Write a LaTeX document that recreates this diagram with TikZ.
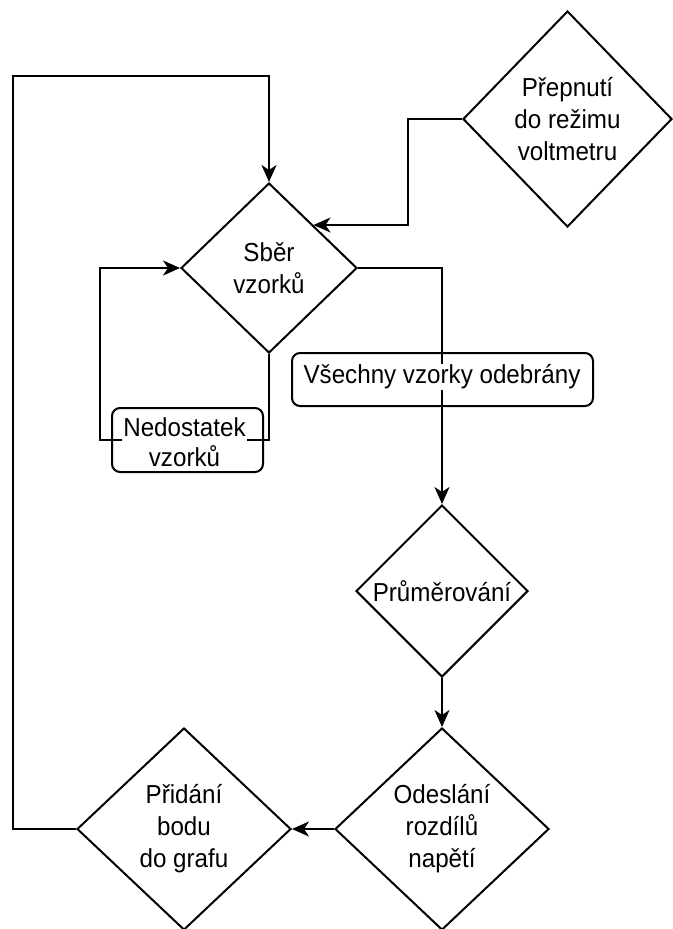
\documentclass[tikz,border=0pt]{standalone}
\usepackage{fontspec}
\setmainfont{Liberation Sans}[FakeStretch=0.93]
\usetikzlibrary{shapes.geometric,arrows.meta}

\begin{document}
\begin{tikzpicture}[x=1pt,y=-1pt,
  flow/.style={line width=2pt, draw=black},
  arr/.style={flow, -{Stealth[length=17pt,width=15pt,inset=5pt]}},
  decision/.style={diamond, draw=black, line width=2pt, fill=white,
    inner sep=0pt, align=center, font=\fontsize{26}{32}\selectfont},
  edgelbl/.style={fill=white, inner xsep=1pt, inner ysep=1pt,
    align=center, font=\fontsize{26}{30}\selectfont},
  lblbox/.style={draw=black, line width=2pt, rounded corners=8pt, inner sep=0pt}
]
\useasboundingbox (0,0) rectangle (672,929);

% decision diamonds
\node[decision, minimum width=209pt, minimum height=216pt] (prep) at (567.5,119)
  {Přepnutí\\do režimu\\voltmetru};
\node[decision, minimum width=176pt, minimum height=170pt] (sber) at (269,268)
  {Sběr\\vzorků};
\node[decision, minimum width=172pt, minimum height=172pt] (prum) at (442,591)
  {Průměrování};
\node[decision, minimum width=214pt, minimum height=202pt] (odes) at (442,829)
  {Odeslání\\rozdílů\\napětí};
\node[decision, minimum width=214pt, minimum height=202pt] (prid) at (184,829)
  {Přidání\\bodu\\do grafu};

% bend points of the orthogonal connectors
\coordinate (bendA) at (408,119);
\coordinate (bendB) at (100,440);
\coordinate (loopTop) at (13,76);

% connectors
\draw[arr] (prep.west) -- (bendA) |- (sber.north east);
\draw[arr] (sber.east) -| (prum.north);
\draw[arr] (sber.south) |- (bendB) |- (sber.west);
\draw[arr] (prum.south) -- (odes.north);
\draw[arr] (odes.west) -- (prid.east);
\draw[arr] (prid.west) -| (loopTop) -| (sber.north);

% connector labels
\node[edgelbl] (lblall) at (442,377) {Všechny vzorky odebrány};
\node[edgelbl] (lbllack) at (184.5,442) {Nedostatek\\vzorků};

% rounded frames around the labels
\node[lblbox, minimum width=301pt, minimum height=53pt] (boxall) at (442.5,379.5) {};
\node[lblbox, minimum width=151pt, minimum height=64pt] (boxlack) at (187.5,440) {};

\end{tikzpicture}
\end{document}
